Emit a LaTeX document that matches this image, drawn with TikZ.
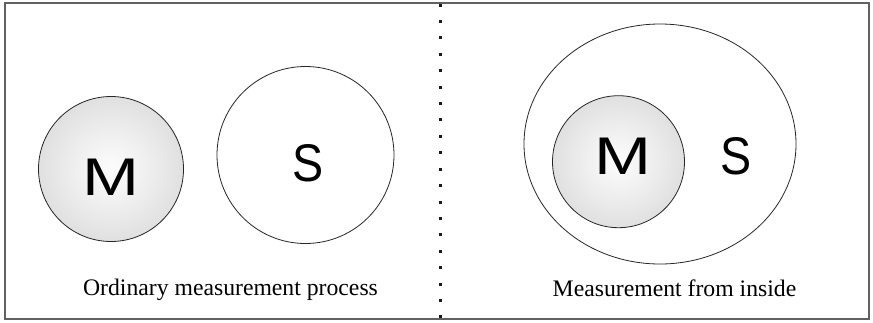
\documentclass[tikz,border=0pt]{standalone}
\usepackage{fontspec}
\setmainfont{Liberation Serif}
\newfontfamily\glyphfont{Liberation Sans}
\usetikzlibrary{shapes.geometric}
\definecolor{litcore}{gray}{0.99}
\definecolor{litmid}{gray}{0.93}
\definecolor{litedge}{gray}{0.76}
\pgfdeclareradialshading{litsphere}{\pgfpointorigin}{color(0bp)=(litcore); color(14bp)=(litmid); color(50bp)=(litedge)}

\begin{document}
\begin{tikzpicture}[x=1pt,y=-1pt,
  outline/.style={draw=black!85, line width=0.8pt},
  sphere/.style={circle, outline, shading=litsphere, inner sep=0pt},
  setcircle/.style={circle, outline, inner sep=0pt},
  letter/.style={font=\glyphfont\fontsize{53}{53}\selectfont, inner sep=0pt},
  caption/.style={font=\fontsize{23.7}{28}\selectfont, inner sep=0pt, anchor=base}]
  \useasboundingbox (0,0) rectangle (873,322);

  % outer frame
  \draw[draw=black!62, line width=1.1pt] (5,3) rectangle (869,319);

  % dotted separator
  \foreach \k in {0,...,19}
    \fill[black!90] (440,{5+16.42*\k}) +(-1.5,-1.5) rectangle +(1.5,1.5);

  % left panel: separate systems
  \node[sphere, minimum size=145pt] (mLeft) at (111,169) {};
  \node[setcircle, minimum size=177pt] (sLeft) at (305.5,155) {};
  \node[letter] (mLeftTxt) at (110.7,177.5) {\scalebox{1.29}[1]{M}};
  \node[letter] (sLeftTxt) at (308.3,163.7) {\scalebox{0.88}[1]{S}};
  \node[caption] (capLeft) at (230.5,295) {Ordinary measurement process};

  % right panel: measuring apparatus inside the system
  \node[ellipse, outline, minimum width=272pt, minimum height=240pt, inner sep=0pt] (sRight) at (660,144) {};
  \node[sphere, minimum size=132pt] (mRight) at (618.5,161.7) {};
  \node[letter] (mRightTxt) at (623.3,156) {\scalebox{1.29}[1]{M}};
  \node[letter] (sRightTxt) at (735.8,156) {\scalebox{0.88}[1]{S}};
  \node[caption] (capRight) at (674.5,296) {Measurement from inside};
\end{tikzpicture}
\end{document}
